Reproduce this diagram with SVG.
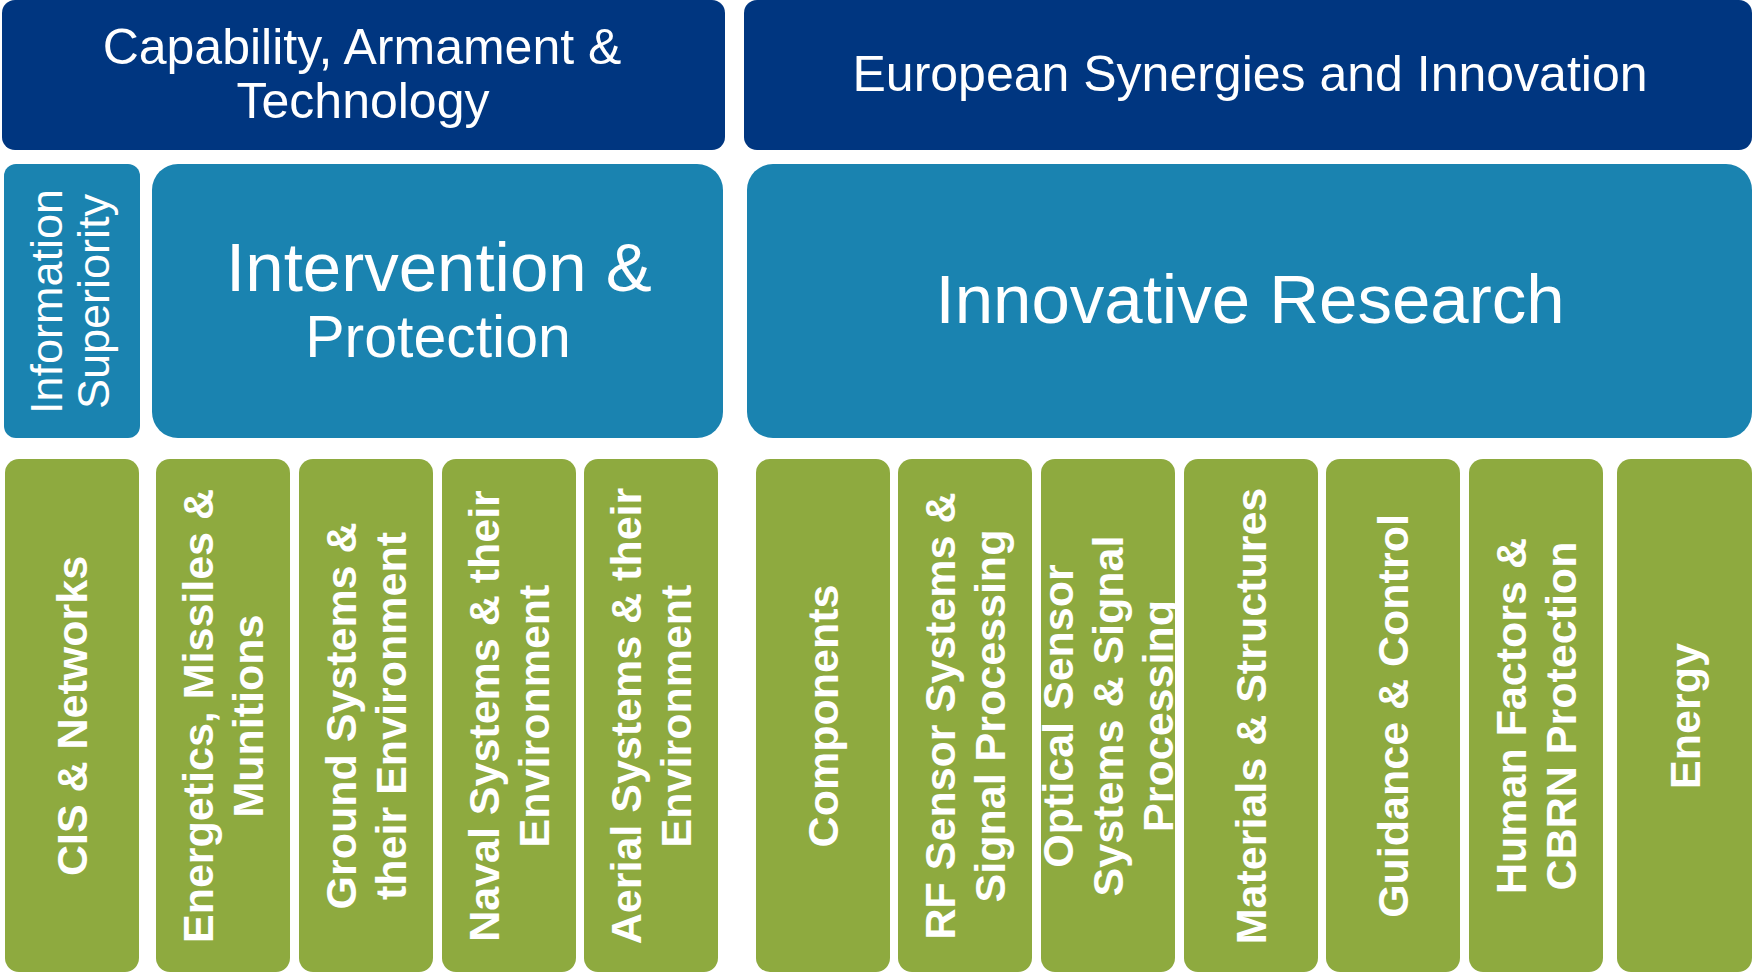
<svg xmlns="http://www.w3.org/2000/svg" width="1752" height="974" viewBox="0 0 1752 974">
<style>
.navy{fill:#003680}
.mid{fill:#1A83B0}
.grn{fill:#8EAA3F}
text{fill:#ffffff;font-family:"Liberation Sans",Arial,sans-serif;text-anchor:middle}
.hd{font-size:50px}
.big{font-size:69px}
.info{font-size:45px}
.gt{font-size:43px;font-weight:bold}
</style>
<rect width="1752" height="974" fill="#ffffff"/>
<g id="connectors"/>
<g id="node-capability">
<rect class="navy" x="2" y="0" width="723" height="150" rx="13"/>
<text class="hd" x="362" y="64">Capability, Armament &amp;</text>
<text class="hd" x="363" y="118">Technology</text>
</g>
<g id="node-european">
<rect class="navy" x="744" y="0" width="1008" height="150" rx="13"/>
<text class="hd" x="1250" y="91">European Synergies and Innovation</text>
</g>
<g id="node-information">
<rect class="mid" x="4" y="164" width="136" height="274" rx="12"/>
<g transform="translate(0,301.5) rotate(-90)">
<text class="info" x="0" y="62">Information</text>
<text class="info" x="0" y="109">Superiority</text>
</g>
</g>
<g id="node-intervention">
<rect class="mid" x="152" y="164" width="571" height="274" rx="26"/>
<text class="big" x="439" y="291">Intervention &amp;</text>
<text x="438" y="357" style="font-size:59px">Protection</text>
</g>
<g id="node-innovative">
<rect class="mid" x="747" y="164" width="1005" height="274" rx="26"/>
<text class="big" x="1250" y="323">Innovative Research</text>
</g>
<g id="node-cis">
<rect class="grn" x="5" y="459" width="134" height="513" rx="14"/>
<g transform="translate(72,716) rotate(-90)"><text class="gt" y="15">CIS &amp; Networks</text></g>
</g>
<g id="node-energetics">
<rect class="grn" x="156" y="459" width="134" height="513" rx="14"/>
<g transform="translate(223,716) rotate(-90)"><text class="gt" y="-10">Energetics, Missiles &amp;</text><text class="gt" y="40">Munitions</text></g>
</g>
<g id="node-ground">
<rect class="grn" x="299" y="459" width="134" height="513" rx="14"/>
<g transform="translate(366,716) rotate(-90)"><text class="gt" y="-10">Ground Systems &amp;</text><text class="gt" y="40">their Environment</text></g>
</g>
<g id="node-naval">
<rect class="grn" x="442" y="459" width="134" height="513" rx="14"/>
<g transform="translate(509,716) rotate(-90)"><text class="gt" y="-10">Naval Systems &amp; their</text><text class="gt" y="40">Environment</text></g>
</g>
<g id="node-aerial">
<rect class="grn" x="584" y="459" width="134" height="513" rx="14"/>
<g transform="translate(651,716) rotate(-90)"><text class="gt" y="-10">Aerial Systems &amp; their</text><text class="gt" y="40">Environment</text></g>
</g>
<g id="node-components">
<rect class="grn" x="756" y="459" width="134" height="513" rx="14"/>
<g transform="translate(823,716) rotate(-90)"><text class="gt" y="15">Components</text></g>
</g>
<g id="node-rf">
<rect class="grn" x="898" y="459" width="134" height="513" rx="14"/>
<g transform="translate(965,716) rotate(-90)"><text class="gt" y="-10">RF Sensor Systems &amp;</text><text class="gt" y="40">Signal Processing</text></g>
</g>
<g id="node-optical">
<rect class="grn" x="1041" y="459" width="134" height="513" rx="14"/>
<g transform="translate(1108,716) rotate(-90)"><text class="gt" y="-35">Optical Sensor</text><text class="gt" y="15">Systems &amp; Signal</text><text class="gt" y="65">Processing</text></g>
</g>
<g id="node-materials">
<rect class="grn" x="1184" y="459" width="134" height="513" rx="14"/>
<g transform="translate(1251,716) rotate(-90)"><text class="gt" y="15">Materials &amp; Structures</text></g>
</g>
<g id="node-guidance">
<rect class="grn" x="1326" y="459" width="134" height="513" rx="14"/>
<g transform="translate(1393,716) rotate(-90)"><text class="gt" y="15">Guidance &amp; Control</text></g>
</g>
<g id="node-human">
<rect class="grn" x="1469" y="459" width="134" height="513" rx="14"/>
<g transform="translate(1536,716) rotate(-90)"><text class="gt" y="-10">Human Factors &amp;</text><text class="gt" y="40">CBRN Protection</text></g>
</g>
<g id="node-energy">
<rect class="grn" x="1617" y="459" width="135" height="513" rx="14"/>
<g transform="translate(1684.5,716) rotate(-90)"><text class="gt" y="15">Energy</text></g>
</g>
</svg>
